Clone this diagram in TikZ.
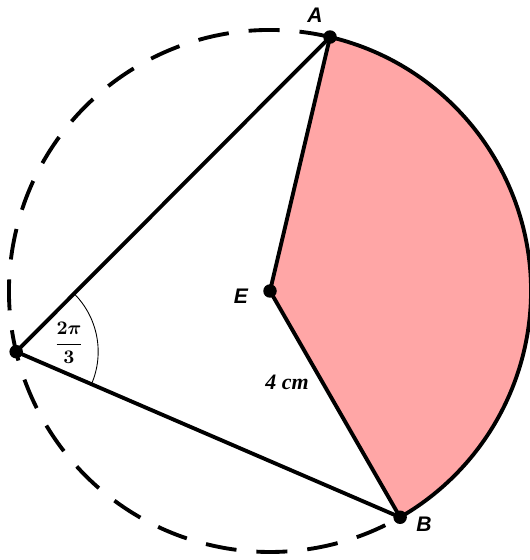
\documentclass[tikz,border=0pt]{standalone}
\usepackage{fontspec}
\usepackage{amsmath}
\usepackage{tikz}
\usetikzlibrary{calc}
\setmainfont{Liberation Serif}
\newfontfamily\ptfont{Liberation Sans}
\definecolor{sectorpink}{HTML}{FFA6A6}
\definecolor{inkblack}{HTML}{000000}
\tikzset{
  % points on the circle
  dot/.style={circle, fill=inkblack, inner sep=0pt, minimum size=0.27cm},
  % point names
  ptlabel/.style={font=\ptfont\bfseries\itshape\fontsize{12}{12}\selectfont, inner sep=0pt},
  % measure labels
  measure/.style={font=\bfseries\itshape\fontsize{12.5}{12.5}\selectfont, inner sep=0pt},
  % strokes
  edge/.style={draw=inkblack, line width=2.2pt, line join=round},
  circ/.style={draw=inkblack, line width=2.2pt, dash pattern=on 0.62cm off 0.4cm},
  anglearc/.style={draw=inkblack, line width=0.5pt},
}

\begin{document}
\begin{tikzpicture}

\useasboundingbox (-5.40,-5.38) rectangle (5.20,5.82);

% ── Points ───────────────────────────────────────────────────────────────────
\coordinate (E) at (0,0);
\coordinate (A) at (76.7:5.22);
\coordinate (B) at (-60.1:5.22);
\coordinate (P) at (193.45:5.22);

% ── Shaded sector ────────────────────────────────────────────────────────────
\fill[sectorpink] (E) -- (A) arc[start angle=76.7, end angle=-60.1, radius=5.22] -- cycle;

% ── Circle: dashed part and solid arc ────────────────────────────────────────
\draw[circ] (A) arc[start angle=76.7, end angle=299.9, radius=5.22];
\draw[edge] (A) arc[start angle=76.7, end angle=-60.1, radius=5.22];

% ── Segments ─────────────────────────────────────────────────────────────────
\draw[edge] (A) -- (E) -- (B);
\draw[edge] (A) -- (P) -- (B);

% ── Inscribed angle ──────────────────────────────────────────────────────────
\draw[anglearc] ($(P)+(45.1:1.64)$) arc[start angle=45.1, end angle=-23.3, radius=1.64];
\node[measure, font=\boldmath\fontsize{11}{11}\selectfont] (frac) at (-4.02,-1.04)
  {$\dfrac{2\pi}{3}$};

% ── Dots ─────────────────────────────────────────────────────────────────────
\node[dot] (dA) at (A) {};
\node[dot] (dB) at (B) {};
\node[dot] (dE) at (E) {};
\node[dot] (dP) at (P) {};

% ── Labels ───────────────────────────────────────────────────────────────────
\node[ptlabel] (labA) at (0.90,5.52) {A};
\node[ptlabel] (labB) at (3.08,-4.66) {B};
\node[ptlabel] (labE) at (-0.58,-0.10) {E};
\node[measure] (radius) at (0.34,-1.82) {4 cm};

\end{tikzpicture}
\end{document}
